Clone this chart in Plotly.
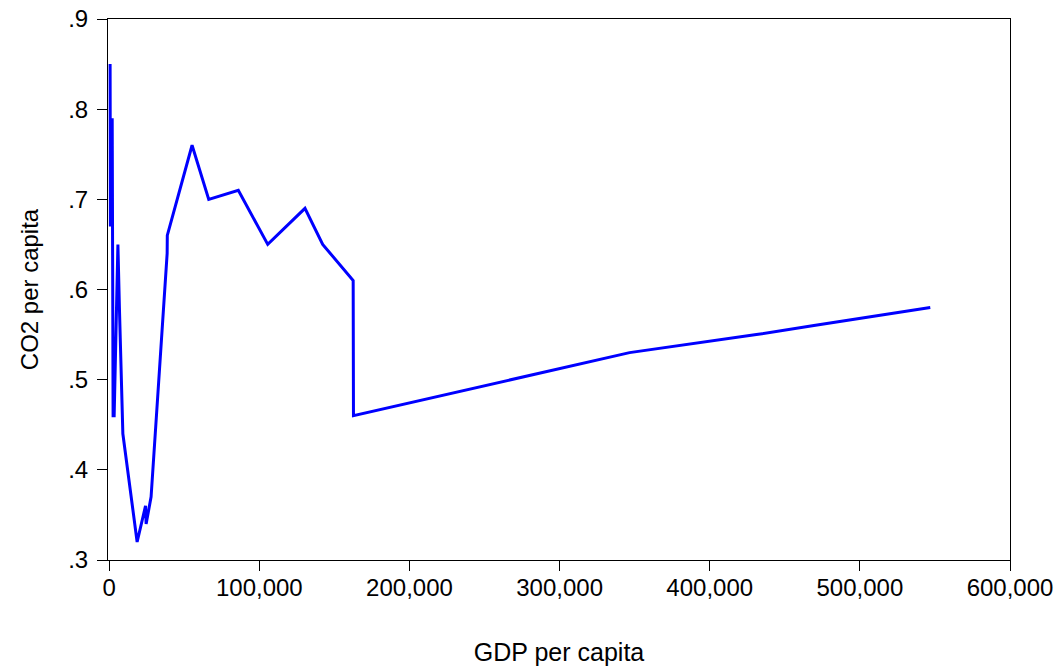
import plotly.graph_objects as go

# GDP per capita vs CO2 per capita, observations in ascending GDP order
gdp_per_capita = [600, 800, 2000, 2600, 3300, 5800, 6800, 9100, 18600, 24200,
                  24600, 27900, 38600, 38700, 55200, 66300, 86000, 105600,
                  130400, 142200, 162500, 162700, 346600, 388900, 431100,
                  469400, 507700, 546900]
co2_per_capita = [0.85, 0.67, 0.79, 0.46, 0.46, 0.65, 0.58, 0.44, 0.32, 0.36,
                  0.34, 0.37, 0.64, 0.66, 0.76, 0.70, 0.71, 0.65,
                  0.69, 0.65, 0.61, 0.46, 0.53, 0.54, 0.55,
                  0.56, 0.57, 0.58]

x_tick_vals = [0, 100000, 200000, 300000, 400000, 500000, 600000]
x_tick_text = ["0", "100,000", "200,000", "300,000", "400,000", "500,000", "600,000"]
y_tick_vals = [0.3, 0.4, 0.5, 0.6, 0.7, 0.8, 0.9]
y_tick_text = [".3", ".4", ".5", ".6", ".7", ".8", ".9"]

fig = go.Figure(
    go.Scatter(
        x=gdp_per_capita,
        y=co2_per_capita,
        mode="lines",
        line=dict(color="#0000FF", width=3),
        hoverinfo="x+y",
    )
)

font_family = "Liberation Sans, Arial, sans-serif"

fig.update_layout(
    width=1056,
    height=666,
    margin=dict(l=108, r=46, t=19, b=106),
    paper_bgcolor="white",
    plot_bgcolor="white",
    showlegend=False,
    font=dict(family=font_family, size=24, color="black"),
)

fig.update_xaxes(
    range=[-800, 600000],
    tickvals=x_tick_vals,
    ticktext=x_tick_text,
    ticks="outside",
    ticklen=10,
    tickwidth=1,
    tickcolor="black",
    ticklabelstandoff=-4,
    automargin=False,
    showgrid=False,
    zeroline=False,
    showline=True,
    linecolor="black",
    linewidth=1,
    mirror=True,
    title=dict(text="GDP per capita", standoff=44, font=dict(size=25)),
)

fig.update_yaxes(
    range=[0.3, 0.9],
    tickvals=y_tick_vals,
    ticktext=y_tick_text,
    ticks="outside",
    ticklen=10,
    tickwidth=1,
    tickcolor="black",
    ticklabelstandoff=4,
    automargin=False,
    showgrid=False,
    zeroline=False,
    showline=True,
    linecolor="black",
    linewidth=1,
    mirror=True,
    title=dict(text="CO2 per capita", standoff=22, font=dict(size=24)),
)

fig.write_html("out.html")
